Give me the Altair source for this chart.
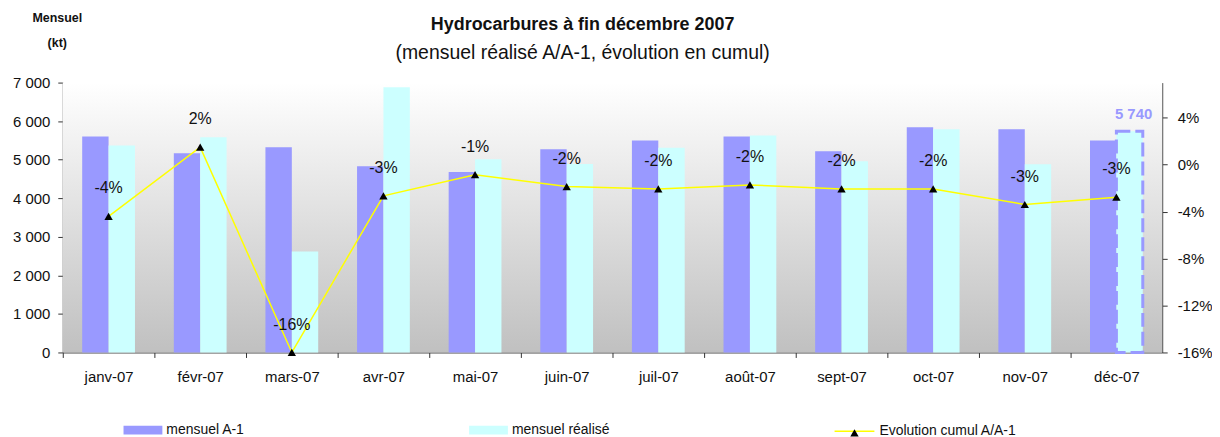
import altair as alt
import pandas as pd

# ---------------- data ----------------
months = ["janv-07", "févr-07", "mars-07", "avr-07", "mai-07", "juin-07",
          "juil-07", "août-07", "sept-07", "oct-07", "nov-07", "déc-07"]
mensuel_a1 = [5600, 5170, 5320, 4830, 4680, 5270, 5500, 5600, 5220, 5840, 5790, 5500]
mensuel_realise = [5370, 5580, 2620, 6880, 5010, 4890, 5310, 5630, 4960, 5790, 4880, 5740]
evolution_cumul = [-4.4, 1.5, -16.0, -2.65, -0.85, -1.86, -2.06, -1.72, -2.06, -2.06, -3.39, -2.77]
series_names = ["mensuel A-1", "mensuel réalisé"]
line_name = "Evolution cumul A/A-1"
left_ticks = [0, 1000, 2000, 3000, 4000, 5000, 6000, 7000]
right_ticks = [-16, -12, -8, -4, 0, 4]
title_text = "Hydrocarbures à fin décembre 2007"
subtitle_text = "(mensuel réalisé A/A-1, évolution en cumul)"
y_title = ["Mensuel", "(kt)"]

FONT = "Liberation Sans"
W, H = 1104, 271
BAND = W / len(months)
AXIS_COLOR = "#333333"

bars_a1 = pd.DataFrame({"mois": months, "serie": series_names[0], "kt": mensuel_a1})
bars_re = pd.DataFrame({"mois": months, "serie": series_names[1], "kt": mensuel_realise})
last_re = bars_re.iloc[[-1]].copy()
last_re["label"] = [f"{v:,}".replace(",", " ") for v in last_re["kt"]]
line_df = pd.DataFrame({
    "mois": months,
    "pct": evolution_cumul,
    "ligne": line_name,
    "marqueur": "triangle",
    "label": [f"{v:.0f}%" for v in evolution_cumul],
})
bg_df = pd.DataFrame({"fond": [1]})

# ---------------- encodings ----------------
x_axis = alt.Axis(title=None, labelAngle=0, tickOffset=-BAND / 2, labelOffset=BAND / 2,
                  tickSize=5, labelPadding=12, labelFontSize=15, labelFont=FONT,
                  labelColor="#111111", domainColor=AXIS_COLOR, tickColor=AXIS_COLOR,
                  grid=False)
x_enc = alt.X("mois:N", sort=months, scale=alt.Scale(paddingInner=0, paddingOuter=0), axis=x_axis)
xoff_enc = alt.XOffset("serie:N", sort=series_names,
                       scale=alt.Scale(domain=series_names, paddingInner=0, paddingOuter=0.736))

left_axis = alt.Axis(orient="left", values=left_ticks,
                     labelExpr="replace(format(datum.value, ','), ',', ' ')",
                     title=y_title, titleAngle=0, titleX=-6, titleY=-61,
                     titleAlign="center", titleBaseline="alphabetic",
                     titleFontSize=12.5, titleFontWeight="bold", titleLineHeight=25,
                     titleFont=FONT, titleColor="#111111",
                     grid=False, tickSize=5, labelPadding=8, labelFontSize=15,
                     labelFont=FONT, labelColor="#111111",
                     domainColor=AXIS_COLOR, tickColor=AXIS_COLOR)
y_kt = alt.Y("kt:Q", scale=alt.Scale(domain=[0, 7000], nice=False, zero=True), axis=left_axis)

right_axis = alt.Axis(orient="right", values=right_ticks, labelExpr="datum.value + '%'",
                      title=None, grid=False, tickSize=5, labelPadding=10,
                      labelFontSize=15, labelFont=FONT, labelColor="#111111",
                      domainColor=AXIS_COLOR, tickColor=AXIS_COLOR)
y_pct = alt.Y("pct:Q", scale=alt.Scale(domain=[-16, 7], nice=False, zero=False), axis=right_axis)

LEG_CENTER = 349
rect_symbol = "M-1,-0.23H1V0.23H-1Z"

def leg(x, size, **kw):
    return alt.Legend(orient="none", legendX=x, legendY=LEG_CENTER - size ** 0.5 / 2,
                      title=None, padding=0, symbolSize=size,
                      labelFontSize=14, labelFont=FONT, labelColor="#111111",
                      labelOffset=4, **kw)

# ---------------- layers ----------------
bg = alt.Chart(bg_df).mark_rect(
    fill=alt.Gradient(gradient="linear", x1=0, x2=0, y1=0, y2=1,
                      stops=[alt.GradientStop(offset=0, color="#FFFFFF"),
                             alt.GradientStop(offset=1, color="#C0C0C0")])
).encode(x=alt.value(0), x2=alt.value(W), y=alt.value(0), y2=alt.value(H))

bar1 = alt.Chart(bars_a1).mark_bar().encode(
    x=x_enc, xOffset=xoff_enc, y=y_kt,
    color=alt.Color("serie:N", scale=alt.Scale(domain=[series_names[0]], range=["#9999FF"]),
                    legend=leg(61, 1521, symbolType=rect_symbol, symbolStrokeWidth=0)),
)
bar2 = alt.Chart(bars_re).mark_bar().encode(
    x=x_enc, xOffset=xoff_enc, y=y_kt,
    fill=alt.Fill("serie:N", scale=alt.Scale(domain=[series_names[1]], range=["#CCFFFF"]),
                  legend=leg(408, 1521, symbolType=rect_symbol, symbolStrokeWidth=0)),
)
outline = alt.Chart(last_re).mark_bar(fill="transparent", stroke="#9999FF", strokeWidth=3,
                                      strokeDash=[14, 5]).encode(
    x=x_enc, xOffset=xoff_enc, y=y_kt)
last_label = alt.Chart(last_re).mark_text(dx=4, dy=-17, fontSize=15, fontWeight="bold",
                                          font=FONT, color="#9999FF").encode(
    x=x_enc, xOffset=xoff_enc, y=y_kt, text="label:N")

bars_group = alt.layer(bar1, bar2, outline, last_label)

line = alt.Chart(line_df).mark_line(strokeWidth=1.5).encode(
    x=x_enc, y=y_pct,
    stroke=alt.Stroke("ligne:N", scale=alt.Scale(domain=[line_name], range=["#FFFF00"]),
                      legend=leg(774, 1600, symbolType="stroke", symbolStrokeWidth=1.5)),
)
points = alt.Chart(line_df).mark_point(filled=True, color="black", size=70, opacity=1).encode(
    x=x_enc, y=y_pct,
    shape=alt.Shape("marqueur:N", scale=alt.Scale(domain=["triangle"], range=["triangle-up"]),
                    legend=leg(788, 70, labelExpr="''", symbolFillColor="black",
                               symbolStrokeColor="black", symbolStrokeWidth=0)),
)
pct_text = alt.Chart(line_df).mark_text(dy=-28, fontSize=16, font=FONT, color="#111111").encode(
    x=x_enc, y=y_pct, text="label:N")

line_group = alt.layer(line, points, pct_text)

chart = alt.layer(bg, bars_group, line_group).resolve_scale(y="independent").properties(
    width=W, height=H,
    autosize=alt.AutoSizeParams(type="none"),
    padding={"left": 55, "top": 74, "right": 50, "bottom": 84},
    title=alt.TitleParams(text=title_text, subtitle=subtitle_text, anchor="middle",
                          frame="group", dx=-30, dy=69,
                          font=FONT, fontSize=18, fontWeight="bold", color="#111111",
                          subtitleFont=FONT, subtitleFontSize=19.5, subtitleColor="#111111",
                          subtitleFontWeight="normal", offset=18, subtitlePadding=10),
).configure_view(stroke="transparent")

chart.save("out.html", embed_options={"renderer": "svg", "actions": False})
